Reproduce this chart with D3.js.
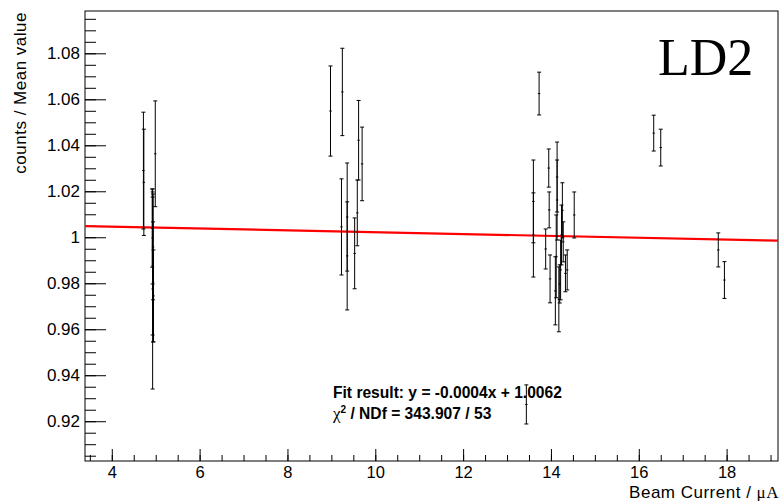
<!DOCTYPE html>
<html>
<head>
<meta charset="utf-8">
<script src="https://cdn.jsdelivr.net/npm/d3@7"></script>
<style>
  html, body { margin: 0; padding: 0; background: #fff; }
  svg { display: block; }
</style>
</head>
<body>
<svg id="chart" width="783" height="501" font-family="Liberation Sans, Arial, Helvetica, sans-serif"></svg>
<script>
// ---- data ----
const xVals = [
  4.72, 4.73, 4.99, 4.92, 4.93, 4.94, 4.93, 4.93, 4.95, 4.94,
  8.98, 9.25, 9.62, 9.59, 9.70, 9.23, 9.36, 9.36, 9.53,
  13.73, 13.60, 13.60, 13.95, 13.96, 13.88, 13.98, 14.14, 14.14, 14.12,
  14.10, 14.18, 14.26, 14.24, 14.22, 14.20, 14.33, 14.37, 14.53, 14.28, 13.44,
  16.34, 16.50, 17.81, 17.95
];
const yVals = [
  1.0290, 1.0239, 1.0363, 1.0040, 0.9997, 0.9958, 0.9875, 0.9775, 0.9745, 0.9806,
  1.0549, 1.0632, 1.0422, 1.0106, 1.0319, 1.0045, 1.0088, 0.9919, 0.9930,
  1.0625, 1.0156, 1.0010, 1.0301, 1.0119, 0.9949, 0.9819, 1.0262, 1.0162, 0.9917,
  0.9767, 0.9730, 1.0117, 1.0010, 0.9858, 0.9797, 0.9843, 0.9858, 1.0097, 0.9980, 0.9273,
  1.0453, 1.0390, 0.9945, 0.9814
];
const yErrs = [
  0.0254, 0.0231, 0.0230, 0.0170, 0.0200, 0.0230, 0.0300, 0.0435, 0.0200, 0.0261,
  0.0196, 0.0190, 0.0173, 0.0143, 0.0160, 0.0209, 0.0235, 0.0235, 0.0154,
  0.0093, 0.0180, 0.0183, 0.0083, 0.0078, 0.0087, 0.0104, 0.0152, 0.0174, 0.0180,
  0.0148, 0.0141, 0.0120, 0.0130, 0.0130, 0.0083, 0.0080, 0.0087, 0.0100, 0.0087, 0.0085,
  0.0078, 0.0080, 0.0074, 0.0080
];
const xTicks = [4, 6, 8, 10, 12, 14, 16, 18];
const yTicks = [0.92, 0.94, 0.96, 0.98, 1.00, 1.02, 1.04, 1.06, 1.08];
const yTickLabels = ["0.92", "0.94", "0.96", "0.98", "1", "1.02", "1.04", "1.06", "1.08"];
const fitSlope = -0.0004;
const fitIntercept = 1.0062;
const xDomain = [3.39, 19.17];
const yDomain = [0.9027, 1.0984];
const xTitle = "Beam Current / ";
const xTitleUnit = "μA";
const yTitle = "counts / Mean value";
const fitLine1 = "Fit result: y = -0.0004x + 1.0062";
const fitLine2 = " / NDf = 343.907 / 53";
const labelText = "LD2";

// ---- layout ----
const SANS = "Liberation Sans, Arial, Helvetica, sans-serif";
const SERIF = "Liberation Serif, Times New Roman, serif";
const L = 85, R = 778, T = 11, B = 461;
const svg = d3.select("#chart");
const x = d3.scaleLinear().domain(xDomain).range([L, R]);
const y = d3.scaleLinear().domain(yDomain).range([B, T]);

// minor ticks
const xMinor = d3.range(3.5, 19.01, 0.5).filter(v => v >= xDomain[0] && v <= xDomain[1]);
const yMinor = d3.range(0.905, 1.0951, 0.005);

// x axis minor
svg.append("g").attr("transform", `translate(0,${B})`)
  .call(d3.axisBottom(x).tickValues(xMinor).tickSize(-6).tickSizeOuter(0).tickFormat(""))
  .call(g => g.select(".domain").remove())
  .call(g => g.selectAll("line").attr("stroke", "#000"));
// x axis major
svg.append("g").attr("transform", `translate(0,${B})`)
  .call(d3.axisBottom(x).tickValues(xTicks).tickSize(-12).tickSizeOuter(0).tickPadding(5).tickFormat(d3.format("d")))
  .call(g => g.select(".domain").remove())
  .call(g => g.selectAll("line").attr("stroke", "#000"))
  .call(g => g.selectAll("text").style("font-size", "16.5px").style("font-family", SANS).attr("fill", "#000"));

// y axis minor
svg.append("g").attr("transform", `translate(${L},0)`)
  .call(d3.axisLeft(y).tickValues(yMinor).tickSize(-11).tickSizeOuter(0).tickFormat(""))
  .call(g => g.select(".domain").remove())
  .call(g => g.selectAll("line").attr("stroke", "#000"));
// y axis major
svg.append("g").attr("transform", `translate(${L},0)`)
  .call(d3.axisLeft(y).tickValues(yTicks).tickSize(-21).tickSizeOuter(0).tickPadding(5)
    .tickFormat((d, i) => yTickLabels[i]))
  .call(g => g.select(".domain").remove())
  .call(g => g.selectAll("line").attr("stroke", "#000"))
  .call(g => g.selectAll("text").style("font-size", "17px").style("font-family", SANS).attr("fill", "#000"));

// frame
svg.append("rect").attr("x", L).attr("y", T).attr("width", R - L).attr("height", B - T)
  .attr("fill", "none").attr("stroke", "#000").attr("stroke-width", 1);

// fit line
svg.append("line")
  .attr("x1", x(xDomain[0])).attr("y1", y(fitSlope * xDomain[0] + fitIntercept))
  .attr("x2", x(xDomain[1])).attr("y2", y(fitSlope * xDomain[1] + fitIntercept))
  .attr("stroke", "#ff0000").attr("stroke-width", 2.2);

// error bars
const pts = xVals.map((v, i) => ({ x: v, y: yVals[i], e: yErrs[i] }));
const eg = svg.append("g").attr("stroke", "#000").attr("stroke-width", 1);
const cap = 2;
pts.forEach(p => {
  const px = x(p.x), top = y(p.y + p.e), bot = y(p.y - p.e), cy = y(p.y);
  eg.append("line").attr("x1", px).attr("x2", px).attr("y1", top).attr("y2", bot);
  eg.append("line").attr("x1", px - cap).attr("x2", px + cap).attr("y1", top).attr("y2", top);
  eg.append("line").attr("x1", px - cap).attr("x2", px + cap).attr("y1", bot).attr("y2", bot);
  eg.append("line").attr("x1", px - 1.2).attr("x2", px + 1.2).attr("y1", cy).attr("y2", cy);
});

// axis titles
const xt = svg.append("text").attr("x", 779).attr("y", 498).attr("text-anchor", "end")
  .style("font-size", "17px").style("font-family", SANS).style("letter-spacing", "0.5px");
xt.append("tspan").text(xTitle);
xt.append("tspan").style("font-family", SERIF).text(xTitleUnit);

svg.append("text").attr("transform", "translate(26,12) rotate(-90)")
  .attr("text-anchor", "end").style("font-size", "17px").style("font-family", SANS)
  .style("letter-spacing", "0.5px").text(yTitle);

// fit result text
svg.append("text").attr("x", 333).attr("y", 398).style("font-size", "15.6px").style("font-weight", "bold")
  .style("font-family", SANS).text(fitLine1);
const t2 = svg.append("text").attr("x", 333).attr("y", 419).style("font-size", "15.6px")
  .style("font-weight", "bold").style("font-family", SANS);
t2.append("tspan").style("font-family", SERIF).style("font-weight", "normal").style("font-size", "17px").text("χ");
t2.append("tspan").style("font-size", "10px").attr("dy", -6).text("2");
t2.append("tspan").attr("dy", 6).text(fitLine2);

// LD2 label
svg.append("text").attr("x", 658).attr("y", 75).style("font-size", "52px")
  .style("font-family", SERIF).text(labelText);
</script>
</body>
</html>
